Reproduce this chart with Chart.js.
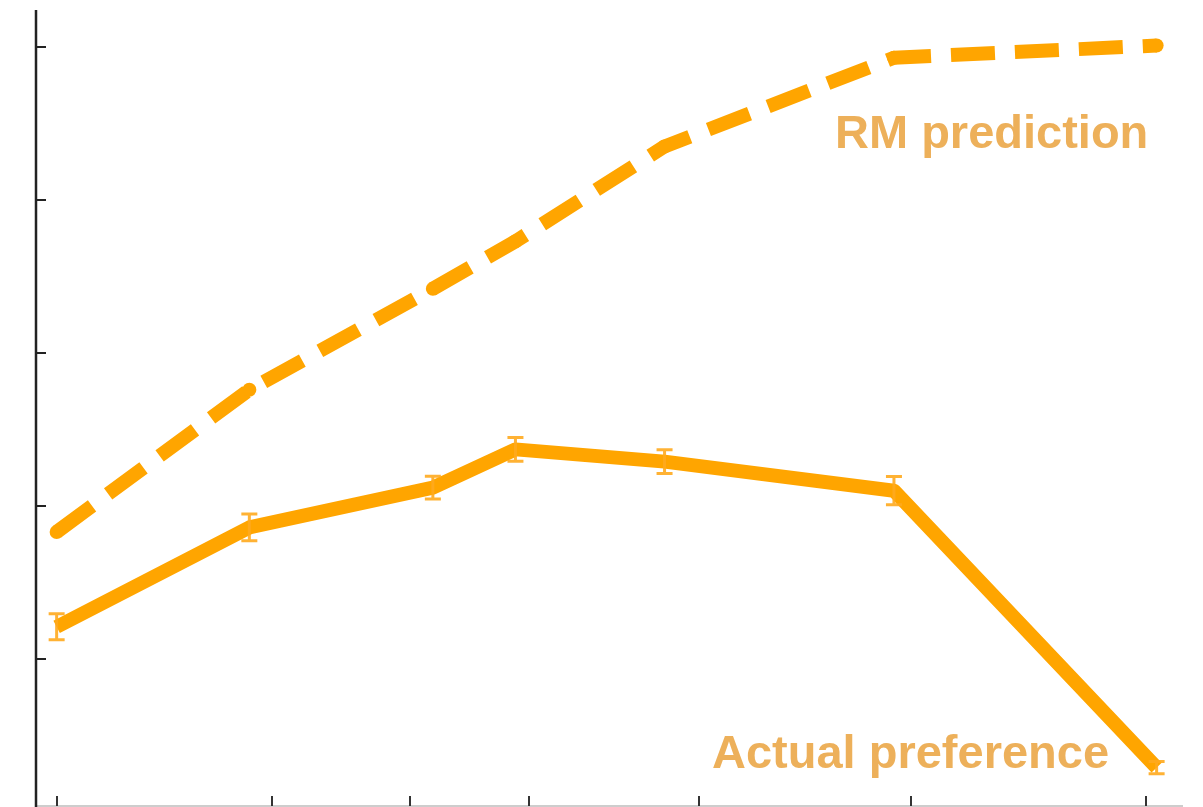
<!DOCTYPE html>
<html>
<head>
<meta charset="utf-8">
<script src="https://cdn.jsdelivr.net/npm/chart.js@4/dist/chart.umd.min.js"></script>
<style>
  html, body { margin: 0; padding: 0; background: #ffffff; overflow: hidden; }
  #chart { display: block; }
</style>
</head>
<body>
<canvas id="chart" width="1203" height="807"></canvas>
<script>
// Positions along the x axis (arbitrary units, axis spans 0..100)
const xPositions = [1.8, 18.6, 34.6, 41.8, 54.8, 74.8, 97.7];
// Reward-model predicted score
const rmPrediction = [0.83, 1.76, 2.42, 2.73, 3.35, 3.93, 4.01];
// Measured preference and its standard error
const actualPreference = [0.21, 0.86, 1.12, 1.37, 1.29, 1.10, -0.71];
const actualError = [0.085, 0.088, 0.075, 0.078, 0.078, 0.092, 0.04];
// Tick marks (no labels are shown)
const xTicks = [1.83, 20.58, 32.61, 42.98, 57.80, 76.29, 96.77];
const yTicks = [0, 1, 2, 3, 4];

const ORANGE = '#FFA500';
const LABEL_COLOR = '#EDB05A';

const toPoints = (ys) => ys.map((y, i) => ({ x: xPositions[i], y }));

// Axis lines with inward ticks, drawn from the scales
const axesPlugin = {
  id: 'inwardAxes',
  beforeDatasetsDraw(chart) {
    const { ctx, chartArea, scales } = chart;
    const xs = scales.x, ys = scales.y;
    ctx.save();
    // bottom axis: light gray line, dark ticks pointing up
    ctx.strokeStyle = '#bdbdbd';
    ctx.lineWidth = 1.5;
    ctx.beginPath();
    ctx.moveTo(chartArea.left, chartArea.bottom);
    ctx.lineTo(chartArea.right, chartArea.bottom);
    ctx.stroke();
    ctx.strokeStyle = '#333333';
    ctx.lineWidth = 2;
    xTicks.forEach(v => {
      const px = Math.round(xs.getPixelForValue(v));
      ctx.beginPath();
      ctx.moveTo(px, chartArea.bottom);
      ctx.lineTo(px, chartArea.bottom - 10);
      ctx.stroke();
    });
    // left axis: dark line, ticks pointing right
    ctx.strokeStyle = '#222222';
    ctx.lineWidth = 2.5;
    ctx.beginPath();
    ctx.moveTo(chartArea.left, chartArea.top);
    ctx.lineTo(chartArea.left, chartArea.bottom + 2);
    ctx.stroke();
    ctx.lineWidth = 2;
    yTicks.forEach(v => {
      const py = Math.round(ys.getPixelForValue(v));
      ctx.beginPath();
      ctx.moveTo(chartArea.left, py);
      ctx.lineTo(chartArea.left + 10, py);
      ctx.stroke();
    });
    ctx.restore();
  }
};

// Error bars on the measured series plus the two series labels
const overlayPlugin = {
  id: 'overlay',
  afterDatasetsDraw(chart) {
    const { ctx, scales } = chart;
    const xs = scales.x, ys = scales.y;
    ctx.save();
    ctx.strokeStyle = 'rgba(255,170,30,0.9)';
    ctx.lineWidth = 3;
    actualPreference.forEach((v, i) => {
      const px = xs.getPixelForValue(xPositions[i]);
      const top = ys.getPixelForValue(v + actualError[i]);
      const bot = ys.getPixelForValue(v - actualError[i]);
      ctx.beginPath();
      ctx.moveTo(px, top); ctx.lineTo(px, bot);
      ctx.moveTo(px - 8, top); ctx.lineTo(px + 8, top);
      ctx.moveTo(px - 8, bot); ctx.lineTo(px + 8, bot);
      ctx.stroke();
    });
    ctx.fillStyle = LABEL_COLOR;
    ctx.font = 'bold 47px "Liberation Sans", Arial, sans-serif';
    ctx.textBaseline = 'alphabetic';
    ctx.textAlign = 'left';
    ctx.fillText('RM prediction', 835, 148);
    ctx.fillText('Actual preference', 712, 768);
    ctx.restore();
  }
};

new Chart(document.getElementById('chart'), {
  type: 'line',
  data: {
    datasets: [
      {
        label: 'RM prediction',
        data: toPoints(rmPrediction),
        borderColor: ORANGE,
        backgroundColor: ORANGE,
        borderWidth: 14,
        borderDash: [44, 20],
        borderCapStyle: 'butt',
        borderJoinStyle: 'round',
        pointRadius: 7,
        pointBorderWidth: 0,
        pointBackgroundColor: ORANGE,
        tension: 0,
        fill: false
      },
      {
        label: 'Actual preference',
        data: toPoints(actualPreference),
        borderColor: ORANGE,
        backgroundColor: ORANGE,
        borderWidth: 14,
        borderCapStyle: 'butt',
        borderJoinStyle: 'round',
        pointRadius: 0,
        tension: 0,
        fill: false
      }
    ]
  },
  options: {
    responsive: false,
    animation: false,
    devicePixelRatio: 1,
    layout: { autoPadding: false, padding: { left: 36, right: 20, top: 10, bottom: 1 } },
    plugins: {
      legend: { display: false },
      tooltip: { enabled: false },
      title: { display: false }
    },
    scales: {
      x: { type: 'linear', min: 0, max: 100, display: false },
      y: { type: 'linear', min: -0.961, max: 4.242, display: false }
    }
  },
  plugins: [axesPlugin, overlayPlugin]
});
</script>
</body>
</html>
